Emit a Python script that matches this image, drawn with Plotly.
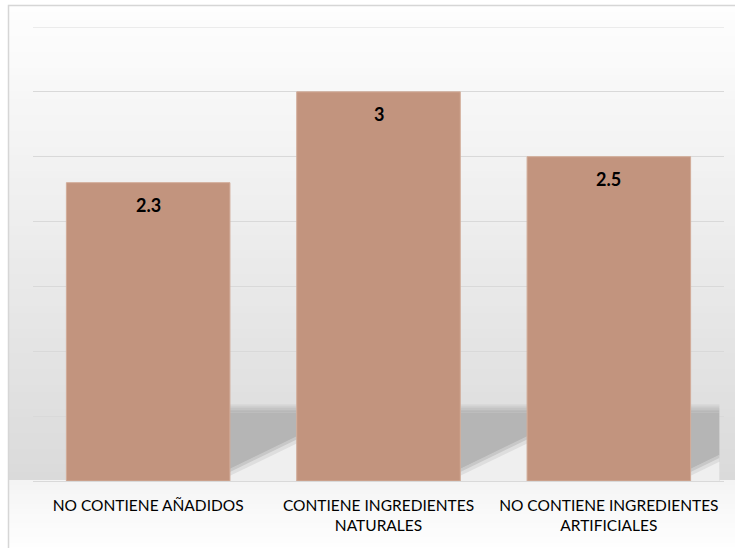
import plotly.graph_objects as go

categories = ["NO CONTIENE AÑADIDOS", "CONTIENE INGREDIENTES NATURALES", "NO CONTIENE INGREDIENTES ARTIFICIALES"]
tick_labels = ["NO CONTIENE AÑADIDOS", "CONTIENE INGREDIENTES<br>NATURALES", "NO CONTIENE INGREDIENTES<br>ARTIFICIALES"]
values = [2.3, 3, 2.5]
value_labels = ["2.3", "3", "2.5"]

W, H = 735, 548
ML, MR, MT, MB = 33, 11, 27, 67
PH = H - MT - MB
BAR_W = 0.71
Y_MAX = 3.5
FONT = "Lato, 'Open Sans', sans-serif"


def py2paper(py):
    return (H - MB - py) / PH


def px2paper(px):
    return (px - ML) / (W - ML - MR)


def mix(c1, c2, t):
    return "rgb({},{},{})".format(*[round(a + (b - a) * t) for a, b in zip(c1, c2)])


shapes = []
# background gradient above floor (from frame top to baseline)
top_px, base_px = 5, H - MB
n = 60
c_top, c_bot = (254, 254, 254), (218, 218, 218)
for k in range(n):
    y0 = top_px + (base_px - top_px) * k / n
    y1 = top_px + (base_px - top_px) * (k + 1) / n
    shapes.append(dict(type="rect", xref="paper", yref="paper", layer="below",
                       x0=px2paper(8), x1=px2paper(W + 5), y0=py2paper(y1), y1=py2paper(y0) + 0.002,
                       fillcolor=mix(c_top, c_bot, (k + 0.5) / n), line_width=0))
# floor below baseline
m = 15
c_f1, c_f2 = (244, 244, 244), (255, 255, 255)
for k in range(m):
    y0 = base_px + (H + 5 - base_px) * k / m
    y1 = base_px + (H + 5 - base_px) * (k + 1) / m
    shapes.append(dict(type="rect", xref="paper", yref="paper", layer="below",
                       x0=px2paper(8), x1=px2paper(W + 5), y0=py2paper(y1), y1=py2paper(y0) + 0.002,
                       fillcolor=mix(c_f1, c_f2, (k + 0.5) / m), line_width=0))
# frame border
shapes.append(dict(type="rect", xref="paper", yref="paper", layer="below",
                   x0=px2paper(8.5), x1=px2paper(W + 10), y0=py2paper(H + 10), y1=py2paper(5.5),
                   fillcolor="rgba(0,0,0,0)", line=dict(color="#d6d6d6", width=1.5)))

# cast shadows behind bars (derived from category positions)
half = BAR_W / 2
for i in range(len(values)):
    x0 = i + half
    x1 = min(i + 1 - half, len(values) - 0.52)
    steps = 6
    for s in range(steps):
        ya = 0.59 - 0.06 * s / steps
        yb = 0.59 - 0.06 * (s + 1) / steps
        shapes.append(dict(type="rect", xref="x", yref="y", layer="between",
                           x0=x0, x1=x1, y0=yb, y1=ya + 0.002,
                           fillcolor=mix((218, 218, 218), (181, 181, 181), (s + 0.5) / steps), line_width=0))
    slope_y0, slope_y1 = 0.09, 0.09 + 0.25 * (x1 - x0) / (1 - BAR_W)
    shapes.append(dict(type="path", xref="x", yref="y", layer="between",
                       path=f"M{x0},{0.53} L{x1},{0.53} L{x1},{slope_y1} L{x0},{slope_y0} Z",
                       fillcolor="rgb(181,181,181)", line_width=0))
    # soft diagonal transition
    for s, col in enumerate([(200, 200, 200), (222, 222, 222)]):
        d = 0.025 * (s + 1)
        shapes.append(dict(type="path", xref="x", yref="y", layer="between",
                           path=f"M{x0},0 L{x1},0 L{x1},{slope_y1 - d + 0.03} L{x0},{slope_y0 - d + 0.03} Z",
                           fillcolor=f"rgb{col}", line_width=0))
    shapes.append(dict(type="path", xref="x", yref="y", layer="between",
                       path=f"M{x0},0 L{x1},0 L{x1},{slope_y1 - 0.05} L{x0},{slope_y0 - 0.05} Z",
                       fillcolor="rgb(239,239,239)", line_width=0))

# top gridline at range end
shapes.append(dict(type="line", xref="paper", yref="y", layer="below",
                   x0=0, x1=1, y0=Y_MAX, y1=Y_MAX, line=dict(color="#d9d9d9", width=1)))

fig = go.Figure()
fig.add_trace(go.Bar(
    x=list(range(len(categories))), y=values,
    marker=dict(color="#c2947e", line=dict(color="#d2ac99", width=1)),
    width=BAR_W, hoverinfo="skip", showlegend=False,
))

annotations = []
for i, (v, t) in enumerate(zip(values, value_labels)):
    annotations.append(dict(x=i, y=v, text=f"<b>{t}</b>", showarrow=False, xref="x", yref="y",
                            yanchor="top", yshift=-9,
                            font=dict(family=FONT, size=18, color="#000000")))

fig.update_layout(
    width=W, height=H,
    margin=dict(l=ML, r=MR, t=MT, b=MB),
    paper_bgcolor="white", plot_bgcolor="rgba(0,0,0,0)",
    shapes=shapes, annotations=annotations,
    xaxis=dict(range=[-0.5, len(values) - 0.5], tickmode="array",
               tickvals=list(range(len(categories))), ticktext=tick_labels,
               showgrid=False, zeroline=False, showline=False, ticks="",
               ticklabelstandoff=13,
               tickfont=dict(family=FONT, size=15.5, color="#000000")),
    yaxis=dict(range=[0, Y_MAX], dtick=0.5, showticklabels=False, showgrid=True,
               gridcolor="#d9d9d9", gridwidth=1, zeroline=True, zerolinecolor="#d9d9d9",
               zerolinewidth=1, showline=False, ticks=""),
    font=dict(family=FONT),
)

fig.write_html("out.html", config={"displayModeBar": False},
               post_script="document.body.style.margin='0';")
